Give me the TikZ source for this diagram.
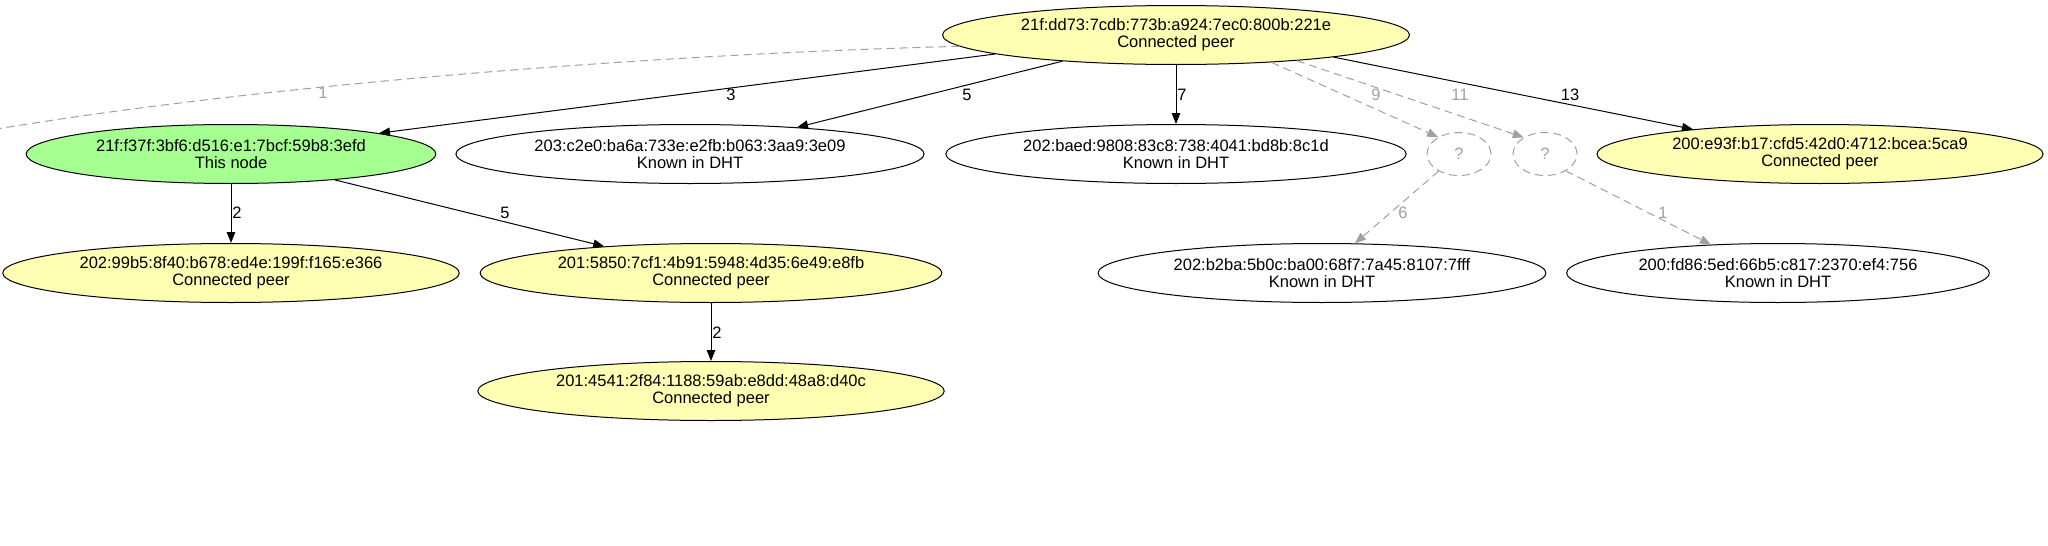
\documentclass[tikz,border=0pt]{standalone}
\usepackage{fontspec}
\setmainfont{Liberation Sans}
\usetikzlibrary{arrows.meta,shapes.geometric}
\definecolor{peerc}{RGB}{255,255,180}
\definecolor{selfc}{RGB}{165,255,145}
\definecolor{dgray}{RGB}{160,160,160}
\begin{document}
\begin{tikzpicture}[x=1pt,y=-1pt,
  nd/.style={ellipse, draw=black, line width=1pt, inner xsep=10pt, inner ysep=0pt,
    minimum height=59pt, align=center, font=\fontsize{16.5}{17}\selectfont},
  peer/.style={nd, fill=peerc},
  me/.style={nd, fill=selfc},
  dht/.style={nd, fill=white},
  qn/.style={ellipse, draw=dgray, line width=1pt, dash pattern=on 8pt off 5pt,
    minimum width=64pt, minimum height=43pt, inner sep=0pt, text=dgray,
    font=\fontsize{16.5}{17}\selectfont},
  edge/.style={draw=black, line width=1pt, -{Triangle[length=11pt,width=8.5pt]}},
  dedge/.style={draw=dgray, line width=1pt, dash pattern=on 8pt off 5pt,
    -{Triangle[length=11pt,width=8.5pt]}},
  lab/.style={font=\fontsize{16.5}{17}\selectfont, inner sep=0pt},
  dlab/.style={lab, text=dgray}
]
\useasboundingbox (0,0) rectangle (2048,546);

\node[peer] (T) at (1176,35) {21f:dd73:7cdb:773b:a924:7ec0:800b:221e\\Connected peer};
\node[me]   (A) at (231,154) {21f:f37f:3bf6:d516:e1:7bcf:59b8:3efd\\This node};
\node[dht]  (B) at (690,154) {203:c2e0:ba6a:733e:e2fb:b063:3aa9:3e09\\Known in DHT};
\node[dht]  (C) at (1176,154) {202:baed:9808:83c8:738:4041:bd8b:8c1d\\Known in DHT};
\node[qn]   (Q1) at (1459,154) {?};
\node[qn]   (Q2) at (1545,154) {?};
\node[peer] (D) at (1820,154) {200:e93f:b17:cfd5:42d0:4712:bcea:5ca9\\Connected peer};
\node[peer] (E) at (231,273) {202:99b5:8f40:b678:ed4e:199f:f165:e366\\Connected peer};
\node[peer] (F) at (711,273) {201:5850:7cf1:4b91:5948:4d35:6e49:e8fb\\Connected peer};
\node[dht]  (G) at (1322,273) {202:b2ba:5b0c:ba00:68f7:7a45:8107:7fff\\Known in DHT};
\node[dht]  (H) at (1778,273) {200:fd86:5ed:66b5:c817:2370:ef4:756\\Known in DHT};
\node[peer] (I) at (711,391) {201:4541:2f84:1188:59ab:e8dd:48a8:d40c\\Connected peer};

\coordinate (off) at (-15,131);

\draw[draw=dgray, line width=1pt, dash pattern=on 8pt off 5pt]
  (T.183) .. controls (650,54) and (250,86) .. (off);
\node[dlab] (l1) at (323,93) {1};

\draw[edge] (T.186) -- (A.8);
\node[lab] (l3) at (731,95) {3};
\draw[edge] (T.193) -- (B.14);
\node[lab] (l5a) at (967,95) {5};
\draw[edge] (T.south) -- (C.north);
\node[lab] (l7) at (1182,95) {7};
\draw[dedge] (T.344) -- (Q1.141);
\node[dlab] (l9) at (1376,95) {9};
\draw[dedge] (T.348) -- (Q2.142);
\node[dlab] (l11) at (1460,95) {11};
\draw[edge] (T.352) -- (D.169);
\node[lab] (l13) at (1570,95) {13};

\draw[edge] (A.south) -- (E.north);
\node[lab] (l2a) at (237,213) {2};
\draw[edge] (A.346) -- (F.166);
\node[lab] (l5b) at (505,213) {5};
\draw[edge] (F.south) -- (I.north);
\node[lab] (l2b) at (717,333) {2};

\draw[dedge] (Q1.220) -- (G.42);
\node[dlab] (l6) at (1403,213) {6};
\draw[dedge] (Q2.321) -- (H.157);
\node[dlab] (l1b) at (1663,213) {1};
\end{tikzpicture}
\end{document}
